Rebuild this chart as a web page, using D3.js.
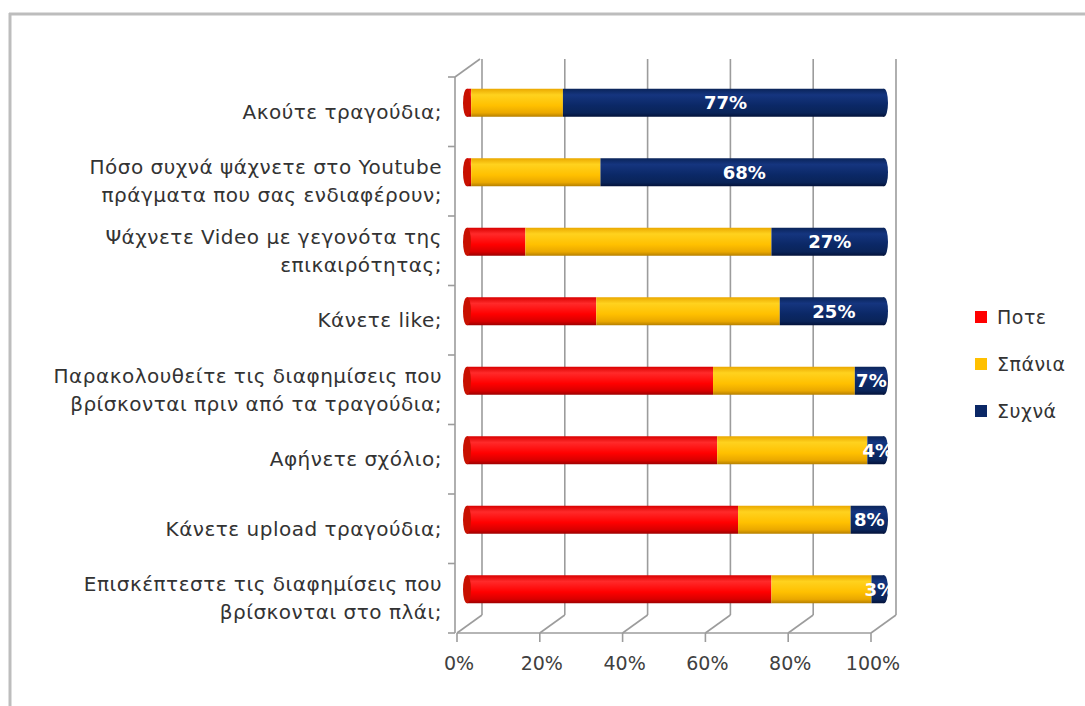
<!DOCTYPE html>
<html>
<head>
<meta charset="utf-8">
<script src="https://cdn.jsdelivr.net/npm/d3@7"></script>
<style>
  html, body { margin: 0; padding: 0; background: #fff; }
  svg { display: block; font-family: "DejaVu Sans", "Noto Sans", sans-serif; }
</style>
</head>
<body>
<svg id="chart" width="1085" height="706"></svg>
<script>
// Survey questions (top to bottom) and answer shares in percent
const questions = [
  ["Ακούτε τραγούδια;"],
  ["Πόσο συχνά ψάχνετε στο Youtube", "πράγματα που σας ενδιαφέρουν;"],
  ["Ψάχνετε Video με γεγονότα της", "επικαιρότητας;"],
  ["Κάνετε like;"],
  ["Παρακολουθείτε τις διαφημίσεις που", "βρίσκονται πριν από τα τραγούδια;"],
  ["Αφήνετε σχόλιο;"],
  ["Κάνετε upload τραγούδια;"],
  ["Επισκέπτεστε τις διαφημίσεις που", "βρίσκονται στο πλάι;"]
];
const seriesNames = ["Ποτε", "Σπάνια", "Συχνά"];
const pote   = [1, 1, 14, 31, 59, 60, 65, 73];
const spania = [22, 31, 59, 44, 34, 36, 27, 24];
const sychna = [77, 68, 27, 25, 7, 4, 8, 3];
const tickValues = [0, 20, 40, 60, 80, 100];

const colors = {
  "Ποτε":   { base: "#ff0000", light: "#ff2a2a", edge: "#d80000", dark: "#9c0000", cap: "#c81000" },
  "Σπάνια": { base: "#ffc000", light: "#ffd21e", edge: "#eaa800", dark: "#b57f00", cap: "#e89a00" },
  "Συχνά":  { base: "#0b2866", light: "#15357f", edge: "#0a2459", dark: "#03123a", cap: "#071d4e" }
};

const svg = d3.select("#chart");

// Outer frame
svg.append("line").attr("x1", 9).attr("y1", 14).attr("x2", 1085).attr("y2", 14)
  .attr("stroke", "#bdbdbd").attr("stroke-width", 3);
svg.append("line").attr("x1", 10).attr("y1", 13).attr("x2", 10).attr("y2", 706)
  .attr("stroke", "#bdbdbd").attr("stroke-width", 3);

// 3D plot box: front plane and depth offset of the back wall
const front = { left: 457, right: 871, top: 77, bottom: 633 };
const depth = { dx: 25, dy: -18 };
const gridColor = "#9c9c9c";

const x = d3.scaleLinear().domain([0, 100]).range([front.left, front.right]);
const y = d3.scaleBand().domain(d3.range(questions.length)).range([front.top, front.bottom]);
// bars sit half-way into the depth of the box
const xBar = d3.scaleLinear().domain([0, 100]).range([front.left + 10, front.right + 13]);
const barH = 28;
const barCy = i => y(i) + y.bandwidth() / 2 + depth.dy / 2;

const grid = svg.append("g").attr("stroke", gridColor).attr("stroke-width", 1.6).attr("fill", "none");

// back-wall vertical gridlines
grid.selectAll("line.v").data(tickValues).join("line")
  .attr("x1", d => x(d) + depth.dx).attr("x2", d => x(d) + depth.dx)
  .attr("y1", front.top + depth.dy).attr("y2", front.bottom + depth.dy);
// floor diagonals
grid.selectAll("line.f").data(tickValues).join("line")
  .attr("x1", d => x(d)).attr("y1", front.bottom)
  .attr("x2", d => x(d) + depth.dx).attr("y2", front.bottom + depth.dy);
// front floor line and its ticks
grid.append("line").attr("x1", x(0)).attr("x2", x(100)).attr("y1", front.bottom).attr("y2", front.bottom);
grid.selectAll("line.t").data(tickValues).join("line")
  .attr("x1", d => x(d)).attr("x2", d => x(d))
  .attr("y1", front.bottom).attr("y2", front.bottom + 9);
// left wall: front edge, top diagonal and category ticks
grid.append("line").attr("x1", front.left - 2).attr("x2", front.left - 2)
  .attr("y1", front.top).attr("y2", front.bottom);
grid.append("line").attr("x1", front.left - 2).attr("y1", front.top)
  .attr("x2", front.left - 2 + depth.dx).attr("y2", front.top + depth.dy);
grid.selectAll("line.c").data(d3.range(questions.length + 1)).join("line")
  .attr("x1", front.left - 9).attr("x2", front.left - 2)
  .attr("y1", i => front.top + i * y.step()).attr("y2", i => front.top + i * y.step());

// cylinder shading gradients
const defs = svg.append("defs");
seriesNames.forEach((name, k) => {
  const c = colors[name];
  const g = defs.append("linearGradient").attr("id", "grad" + k)
    .attr("x1", 0).attr("y1", 0).attr("x2", 0).attr("y2", 1);
  g.append("stop").attr("offset", "0%").attr("stop-color", c.edge);
  g.append("stop").attr("offset", "22%").attr("stop-color", c.light);
  g.append("stop").attr("offset", "60%").attr("stop-color", c.base);
  g.append("stop").attr("offset", "86%").attr("stop-color", c.edge);
  g.append("stop").attr("offset", "100%").attr("stop-color", c.dark);
});

// stacked data
const rows = questions.map((q, i) => ({ i, "Ποτε": pote[i], "Σπάνια": spania[i], "Συχνά": sychna[i] }));
const stacked = d3.stack().keys(seriesNames)(rows);

const bars = svg.append("g");
stacked.forEach((layer, k) => {
  bars.append("g").selectAll("rect").data(layer).join("rect")
    .attr("x", d => xBar(d[0]))
    .attr("width", d => Math.max(0, xBar(d[1]) - xBar(d[0])))
    .attr("y", d => barCy(d.data.i) - barH / 2)
    .attr("height", barH)
    .attr("fill", `url(#grad${k})`);
});
// rounded right end of each bar
const last = stacked[stacked.length - 1];
bars.append("g").selectAll("ellipse").data(last).join("ellipse")
  .attr("cx", d => xBar(d[1])).attr("cy", d => barCy(d.data.i))
  .attr("rx", 4).attr("ry", barH / 2)
  .attr("fill", "url(#grad2)");
// visible left face of each cylinder
bars.append("g").selectAll("ellipse").data(stacked[0]).join("ellipse")
  .attr("cx", d => xBar(d[0])).attr("cy", d => barCy(d.data.i))
  .attr("rx", 4).attr("ry", barH / 2)
  .attr("fill", colors["Ποτε"].cap);

// value labels for "Συχνά"
svg.append("g").selectAll("text").data(last).join("text")
  .attr("x", d => (xBar(d[0]) + xBar(d[1])) / 2 + 2)
  .attr("y", d => barCy(d.data.i))
  .attr("dy", "0.36em")
  .attr("text-anchor", "middle")
  .attr("fill", "#ffffff")
  .attr("font-weight", "bold")
  .attr("font-size", 18)
  .text(d => (d[1] - d[0]) + "%");

// category labels
const labels = svg.append("g").attr("fill", "#333").attr("font-size", 20)
  .attr("letter-spacing", 0.5).attr("text-anchor", "end");
questions.forEach((lines, i) => {
  const cy = y(i) + y.bandwidth() / 2;
  const lh = 28;
  lines.forEach((t, j) => {
    labels.append("text")
      .attr("x", 442)
      .attr("y", cy + (j - (lines.length - 1) / 2) * lh)
      .attr("dy", "0.36em")
      .text(t);
  });
});

// x tick labels
svg.append("g").selectAll("text").data(tickValues).join("text")
  .attr("x", d => x(d) + 2).attr("y", 670)
  .attr("text-anchor", "middle")
  .attr("fill", "#404040").attr("font-size", 19)
  .text(d => d + "%");

// legend
const legend = svg.append("g").attr("transform", "translate(975,317)");
seriesNames.forEach((name, k) => {
  const g = legend.append("g").attr("transform", `translate(0,${k * 47})`);
  g.append("rect").attr("x", 0).attr("y", -6).attr("width", 12).attr("height", 12)
    .attr("fill", colors[name].base);
  g.append("text").attr("x", 22).attr("y", 0).attr("dy", "0.36em")
    .attr("fill", "#333").attr("font-size", 19).attr("letter-spacing", 0.5).text(name);
});
</script>
</body>
</html>
